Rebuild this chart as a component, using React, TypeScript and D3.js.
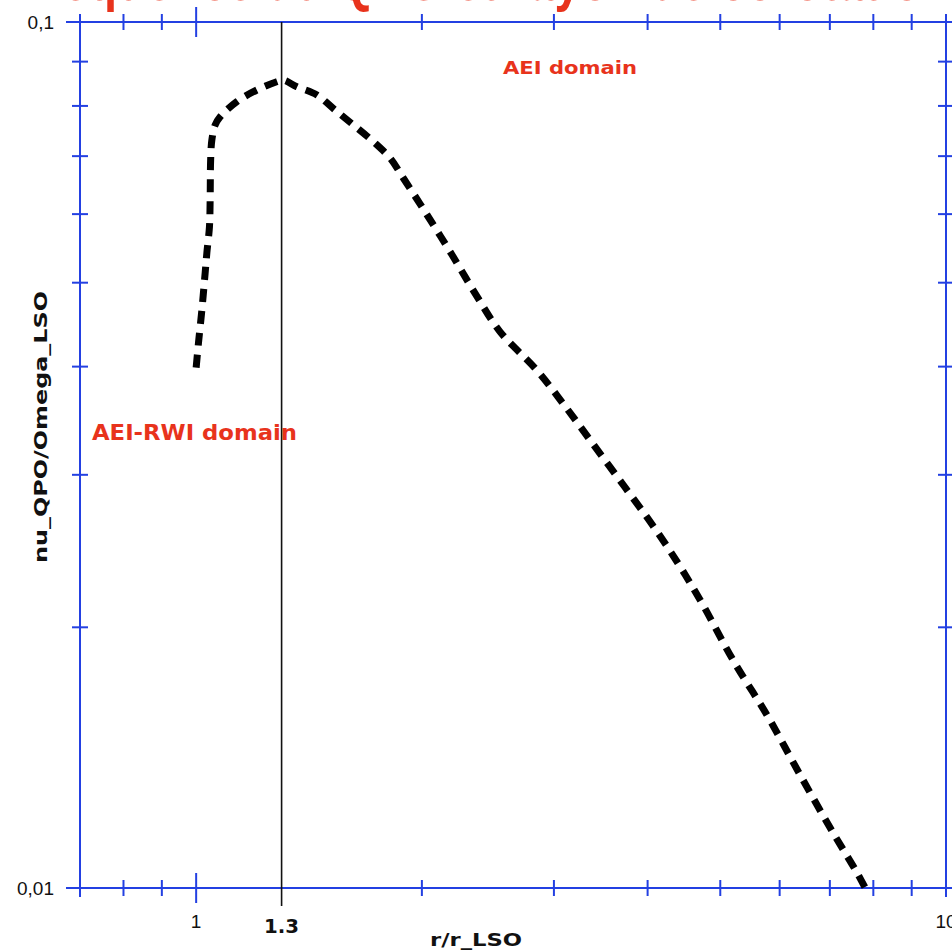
import React from "react";
import * as d3 from "d3";

// Radius in units of r_LSO and QPO frequency over the orbital frequency at the LSO
const rRatio = [
  1.0, 1.0071, 1.0177, 1.028, 1.0334, 1.0417, 1.0439, 1.0455, 1.0494, 1.0601,
  1.0765, 1.1331, 1.2048, 1.2807, 1.306, 1.3622, 1.449, 1.532, 1.6215, 1.723,
  1.8145, 1.8898, 2.0325, 2.1946, 2.355, 2.5433, 2.8448, 3.1178, 3.4028, 3.7276,
  4.0603, 4.3894, 4.7244, 5.1982, 5.7904, 6.3888, 7.0706, 7.6024, 7.8035,
];
const nuRatio = [
  0.0399, 0.04258, 0.0465, 0.05131, 0.05411, 0.05802, 0.06229, 0.06929, 0.07307, 0.07603,
  0.07772, 0.08091, 0.08346, 0.08532, 0.0857, 0.08419, 0.08235, 0.07914, 0.07603, 0.07275,
  0.06961, 0.066, 0.05986, 0.05382, 0.04861, 0.04388, 0.03964, 0.03583, 0.03233, 0.02906,
  0.02625, 0.02373, 0.02134, 0.01834, 0.01576, 0.01351, 0.01158, 0.01043, 0.01,
];

const xDomain = [0.7, 10];
const yDomain = [0.01, 0.1];
const xMinorTicks = [0.8, 0.9, 2, 3, 4, 5, 6, 7, 8, 9];
const xMajorTicks = [1];
const yMinorTicks = [0.02, 0.03, 0.04, 0.05, 0.06, 0.07, 0.08, 0.09];
const xTickLabels = [
  { value: 1, text: "1" },
  { value: 10, text: "10" },
];
const yTickLabels = [
  { value: 0.1, text: "0,1" },
  { value: 0.01, text: "0,01" },
];
const markerValue = 1.3;
const markerLabel = "1.3";
const xTitle = "r/r_LSO";
const yTitle = "nu_QPO/Omega_LSO";
const topTitle = "Fréquence du QPO et rayon de corotation";
const aeiLabel = "AEI domain";
const aeiRwiLabel = "AEI-RWI domain";

const W = 952;
const H = 951;
const left = 80;
const right = 946;
const top = 22;
const bottom = 888;

const BLUE = "#2340e2";
const RED = "#e8331c";
const FONT = "'Liberation Sans', Arial, Helvetica, sans-serif";
const BOLD_FONT = "'DejaVu Sans', 'Liberation Sans', Arial, sans-serif";

export default function App() {
  const x = d3.scaleLog().domain(xDomain).range([left, right]);
  const y = d3.scaleLog().domain(yDomain).range([bottom, top]);

  const pts: [number, number][] = rRatio.map((r, i) => [r, nuRatio[i]]);
  const line = d3
    .line<[number, number]>()
    .x((d) => x(d[0]))
    .y((d) => y(d[1]))
    .curve(d3.curveCatmullRom.alpha(0.5));

  const minor = 8;
  const major = 15;

  return (
    <div style={{ position: "absolute", left: 0, top: 0 }}>
      <svg width={W} height={H} style={{ display: "block", background: "#fff" }}>
        {/* heading, mostly above the page edge */}
        <text
          x={15}
          y={0}
          fill={RED}
          fontFamily={FONT}
          fontWeight="bold"
          fontSize={60}
          textLength={935}
          lengthAdjust="spacingAndGlyphs"
        >
          {topTitle}
        </text>

        {/* frame */}
        <g stroke={BLUE} strokeWidth={2} fill="none">
          <line x1={left - 14} x2={W} y1={top} y2={top} />
          <line x1={left - 14} x2={W} y1={bottom} y2={bottom} />
          <line x1={left} x2={left} y1={top - 8} y2={bottom + 9} />
          <line x1={right} x2={right} y1={top - 8} y2={bottom + 9} />

          {xMinorTicks.map((t) => (
            <g key={"xm" + t}>
              <line x1={x(t)} x2={x(t)} y1={top - minor} y2={top + minor} />
              <line x1={x(t)} x2={x(t)} y1={bottom - minor} y2={bottom + minor} />
            </g>
          ))}
          {xMajorTicks.map((t) => (
            <g key={"xM" + t}>
              <line x1={x(t)} x2={x(t)} y1={top - major} y2={top + major} />
              <line x1={x(t)} x2={x(t)} y1={bottom - major} y2={bottom + major} />
            </g>
          ))}
          {yMinorTicks.map((t) => (
            <g key={"ym" + t}>
              <line x1={left - minor} x2={left + minor} y1={y(t)} y2={y(t)} />
              <line x1={right - minor} x2={right + minor} y1={y(t)} y2={y(t)} />
            </g>
          ))}
        </g>

        {/* tick labels */}
        <g fontFamily={FONT} fontSize={19} fill="#111">
          {xTickLabels.map((t) => (
            <text key={"xl" + t.value} x={x(t.value)} y={bottom + 40} textAnchor="middle">
              {t.text}
            </text>
          ))}
          {yTickLabels.map((t) => (
            <text key={"yl" + t.value} x={left - 26} y={y(t.value) + 7} textAnchor="end">
              {t.text}
            </text>
          ))}
        </g>

        {/* r = 1.3 r_LSO marker */}
        <line
          x1={x(markerValue)}
          x2={x(markerValue)}
          y1={top}
          y2={bottom + 18}
          stroke="#111"
          strokeWidth={1.6}
        />
        <text
          x={x(markerValue)}
          y={bottom + 45}
          textAnchor="middle"
          fontFamily={BOLD_FONT}
          fontWeight="bold"
          fontSize={20}
          fill="#111"
          textLength={35}
          lengthAdjust="spacingAndGlyphs"
        >
          {markerLabel}
        </text>

        {/* axis titles */}
        <text
          x={476}
          y={bottom + 58}
          textAnchor="middle"
          fontFamily={BOLD_FONT}
          fontWeight="bold"
          fontSize={17}
          fill="#111"
          textLength={92}
          lengthAdjust="spacingAndGlyphs"
        >
          {xTitle}
        </text>
        <text
          transform={`translate(${47},${427}) rotate(-90)`}
          textAnchor="middle"
          fontFamily={BOLD_FONT}
          fontWeight="bold"
          fontSize={17}
          fill="#111"
          textLength={272}
          lengthAdjust="spacingAndGlyphs"
        >
          {yTitle}
        </text>

        {/* domain annotations */}
        <text
          x={503}
          y={74}
          fontFamily={BOLD_FONT}
          fontWeight="bold"
          fontSize={17}
          fill={RED}
          textLength={134}
          lengthAdjust="spacingAndGlyphs"
        >
          {aeiLabel}
        </text>
        <text
          x={92}
          y={440}
          fontFamily={BOLD_FONT}
          fontWeight="bold"
          fontSize={22}
          fill={RED}
          textLength={205}
          lengthAdjust="spacingAndGlyphs"
        >
          {aeiRwiLabel}
        </text>

        {/* QPO frequency curve */}
        <path
          d={line(pts) || ""}
          fill="none"
          stroke="#000"
          strokeWidth={7}
          strokeDasharray="13 9"
          strokeLinejoin="round"
        />
      </svg>
    </div>
  );
}
